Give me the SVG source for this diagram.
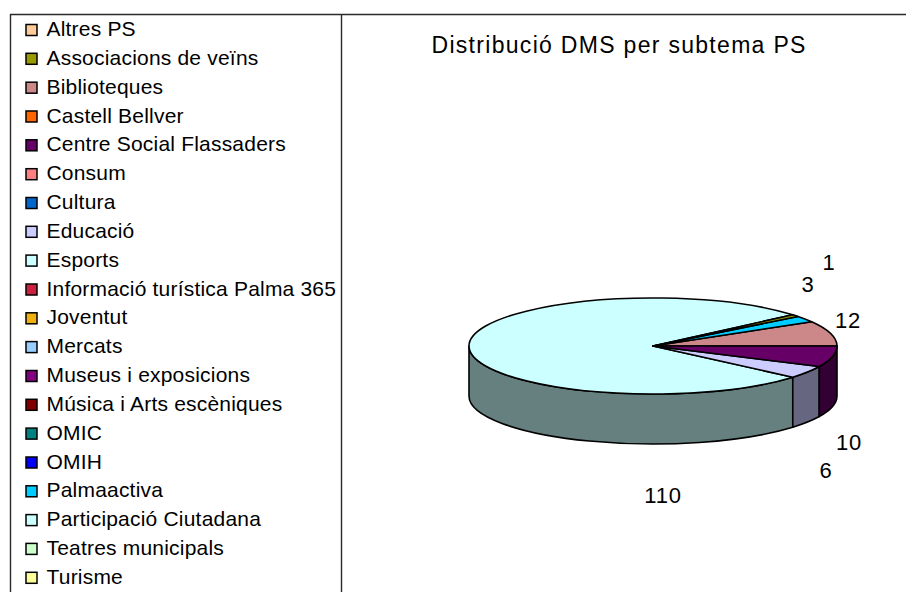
<svg xmlns="http://www.w3.org/2000/svg" width="906" height="592" viewBox="0 0 906 592">
<style>
.frame{stroke:#2a2a2a;stroke-width:1.4;fill:none}
.lg text{font-family:"Liberation Sans",Arial,sans-serif;font-size:21px;fill:#000;letter-spacing:0.2px}
.lg rect{stroke:#000;stroke-width:1.5}
.title{font-family:"Liberation Sans",Arial,sans-serif;font-size:23px;fill:#000;letter-spacing:1.3px}
.val{font-family:"Liberation Sans",Arial,sans-serif;font-size:22px;fill:#000;text-anchor:middle;letter-spacing:0.8px}
.pie path{stroke:#000;stroke-width:1.6;stroke-linejoin:round}
</style>
<rect width="906" height="592" fill="#fff"/>
<g id="frame">
<line class="frame" x1="10" y1="14.5" x2="906" y2="14.5"/>
<line class="frame" x1="10.5" y1="14" x2="10.5" y2="592"/>
<line class="frame" x1="341.5" y1="14" x2="341.5" y2="592"/>
</g>
<g id="legend" class="lg">
<g id="lg-altres"><rect x="26" y="24.5" width="11" height="11" fill="#FFCC99"/><text x="46.5" y="36">Altres PS</text></g>
<g id="lg-associacions"><rect x="26" y="53.3" width="11" height="11" fill="#999900"/><text x="46.5" y="64.8">Associacions de veïns</text></g>
<g id="lg-biblioteques"><rect x="26" y="82.2" width="11" height="11" fill="#CC8888"/><text x="46.5" y="93.7">Biblioteques</text></g>
<g id="lg-castell"><rect x="26" y="111" width="11" height="11" fill="#FF6600"/><text x="46.5" y="122.5">Castell Bellver</text></g>
<g id="lg-centre"><rect x="26" y="139.8" width="11" height="11" fill="#660066"/><text x="46.5" y="151.3">Centre Social Flassaders</text></g>
<g id="lg-consum"><rect x="26" y="168.7" width="11" height="11" fill="#FF8080"/><text x="46.5" y="180.2">Consum</text></g>
<g id="lg-cultura"><rect x="26" y="197.5" width="11" height="11" fill="#0066CC"/><text x="46.5" y="209">Cultura</text></g>
<g id="lg-educacio"><rect x="26" y="226.3" width="11" height="11" fill="#CCCCFF"/><text x="46.5" y="237.8">Educació</text></g>
<g id="lg-esports"><rect x="26" y="255.1" width="11" height="11" fill="#CCFFFF"/><text x="46.5" y="266.6">Esports</text></g>
<g id="lg-informacio"><rect x="26" y="284" width="11" height="11" fill="#CC2040"/><text x="46.5" y="295.5">Informació turística Palma 365</text></g>
<g id="lg-joventut"><rect x="26" y="312.8" width="11" height="11" fill="#F0B010"/><text x="46.5" y="324.3">Joventut</text></g>
<g id="lg-mercats"><rect x="26" y="341.6" width="11" height="11" fill="#99CCFF"/><text x="46.5" y="353.1">Mercats</text></g>
<g id="lg-museus"><rect x="26" y="370.5" width="11" height="11" fill="#800080"/><text x="46.5" y="382">Museus i exposicions</text></g>
<g id="lg-musica"><rect x="26" y="399.3" width="11" height="11" fill="#800000"/><text x="46.5" y="410.8">Música i Arts escèniques</text></g>
<g id="lg-omic"><rect x="26" y="428.1" width="11" height="11" fill="#008080"/><text x="46.5" y="439.6">OMIC</text></g>
<g id="lg-omih"><rect x="26" y="457" width="11" height="11" fill="#0000FF"/><text x="46.5" y="468.5">OMIH</text></g>
<g id="lg-palmaactiva"><rect x="26" y="485.8" width="11" height="11" fill="#00CCFF"/><text x="46.5" y="497.3">Palmaactiva</text></g>
<g id="lg-participacio"><rect x="26" y="514.6" width="11" height="11" fill="#CCFFFF"/><text x="46.5" y="526.1">Participació Ciutadana</text></g>
<g id="lg-teatres"><rect x="26" y="543.4" width="11" height="11" fill="#CCFFCC"/><text x="46.5" y="554.9">Teatres municipals</text></g>
<g id="lg-turisme"><rect x="26" y="572.3" width="11" height="11" fill="#FFFF99"/><text x="46.5" y="583.8">Turisme</text></g>
</g>
<text id="title" class="title" x="431.5" y="53">Distribució DMS per subtema PS</text>
<g id="pie" class="pie">
<g id="sides">
<path id="side-participacio" d="M469,346 A184,48 0 0,0 792.78,377.21 L792.78,427.21 A184,48 0 0,1 469,396 Z" fill="#668080"/>
<path id="side-educacio" d="M792.78,377.21 A184,48 0 0,0 819.28,366.55 L819.28,416.55 A184,48 0 0,1 792.78,427.21 Z" fill="#666680"/>
<path id="side-centre" d="M819.28,366.55 A184,48 0 0,0 837,346 L837,396 A184,48 0 0,1 819.28,416.55 Z" fill="#330033"/>
</g>
<g id="slice-participacio"><path d="M653,346 L792.78,314.79 A184,48 0 1,0 792.78,377.21 Z" fill="#CCFFFF"/></g>
<g id="slice-biblioteques"><path d="M653,346 L837,346 A184,48 0 0,0 811.66,321.70 Z" fill="#CC8888"/></g>
<g id="slice-palmaactiva"><path d="M653,346 L811.66,321.70 A184,48 0 0,0 797.94,316.43 Z" fill="#00CCFF"/></g>
<g id="slice-associacions"><path d="M653,346 L797.94,316.43 A184,48 0 0,0 792.78,314.79 Z" fill="#999900"/></g>
<g id="slice-educacio"><path d="M653,346 L792.78,377.21 A184,48 0 0,0 819.28,366.55 Z" fill="#CCCCFF"/></g>
<g id="slice-centre"><path d="M653,346 L819.28,366.55 A184,48 0 0,0 837,346 Z" fill="#660066"/></g>
</g>
<g id="values">
<text class="val" x="829" y="270">1</text>
<text class="val" x="808" y="292">3</text>
<text class="val" x="848" y="328">12</text>
<text class="val" x="849" y="450">10</text>
<text class="val" x="826" y="478">6</text>
<text class="val" x="663" y="503">110</text>
</g>
</svg>
